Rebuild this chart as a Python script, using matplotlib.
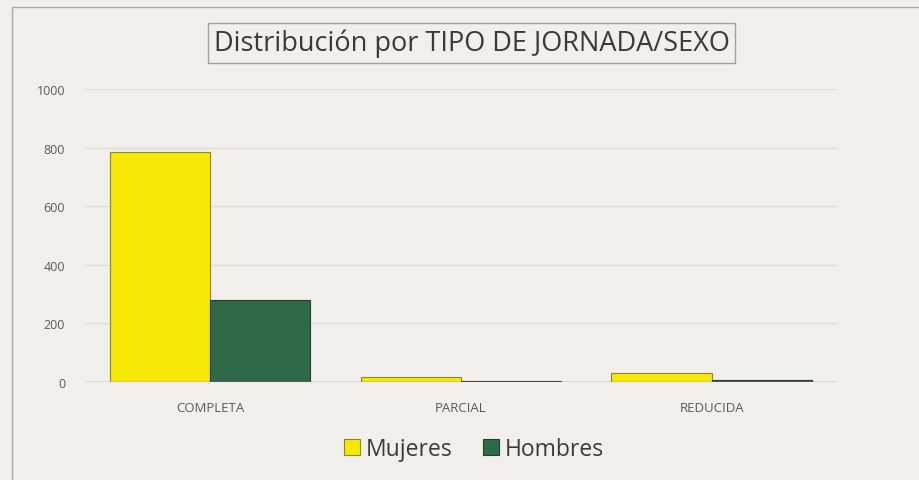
import matplotlib.pyplot as plt
import numpy as np
from matplotlib.patches import Rectangle

categories = ["COMPLETA", "PARCIAL", "REDUCIDA"]
mujeres = [785, 15, 30]
hombres = [280, 4, 5]

bg = "#f1efeb"
fig = plt.figure(figsize=(9.2, 4.81), dpi=100, facecolor=bg)
ax = fig.add_axes([0.092, 0.204, 0.818, 0.609])
ax.set_facecolor(bg)

x = np.arange(len(categories))
w = 0.4
ax.bar(x - w / 2, mujeres, w, color="#f6e804", edgecolor="#8a8a20", linewidth=0.8, label="Mujeres", zorder=3)
ax.bar(x + w / 2, hombres, w, color="#2f6a48", edgecolor="#2a3a2a", linewidth=0.8, label="Hombres", zorder=3)

ax.set_xlim(-0.5, 2.5)
ax.set_ylim(0, 1000)
ax.set_yticks(range(0, 1001, 200))
ax.set_xticks(x)
ax.set_xticklabels(categories)
ax.grid(axis="y", color="#e0ded9", linewidth=1, zorder=0)
for s in ax.spines.values():
    s.set_visible(False)
ax.axhline(0, color="#8c8c8c", linewidth=1, zorder=4)
ax.tick_params(axis="both", length=0, labelsize=9, labelcolor="#5a5a5a")
ax.tick_params(axis="x", pad=14, labelsize=9.5)
ax.tick_params(axis="y", pad=14)
for t in ax.get_xticklabels() + ax.get_yticklabels():
    t.set_family("Open Sans")

fig.text(0.5125, 0.909, "Distribución por TIPO DE JORNADA/SEXO", ha="center", va="center",
         fontsize=19.5, family="Open Sans", color="#3a3a3a",
         bbox=dict(boxstyle="square,pad=0.22", facecolor=bg, edgecolor="#a0a0a0", linewidth=1))

leg = fig.legend(loc="center", bbox_to_anchor=(0.515, 0.064), ncol=2, frameon=False,
                 prop={"family": "Open Sans", "size": 16.5}, handlelength=0.7, handleheight=0.7,
                 handletextpad=0.25, columnspacing=1.3)
for t in leg.get_texts():
    t.set_color("#3a3a3a")

fig.patches.append(Rectangle((0.013, -0.05), 1.0, 1.034, transform=fig.transFigure,
                             fill=False, edgecolor="#a8a8a8", linewidth=1))

fig.savefig("out.png", dpi=100, facecolor=bg)
